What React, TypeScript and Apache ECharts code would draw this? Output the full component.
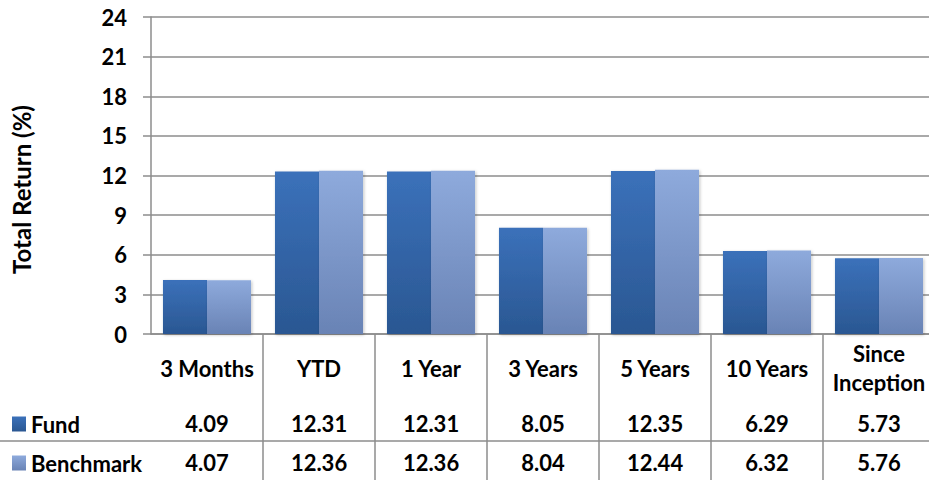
import React, { useEffect, useRef } from "react";
import * as echarts from "echarts";

// Periods shown along the category axis
const categories = ["3 Months", "YTD", "1 Year", "3 Years", "5 Years", "10 Years", "Since\nInception"];
// Total return (%) per period
const fundValues = [4.09, 12.31, 12.31, 8.05, 12.35, 6.29, 5.73];
const benchmarkValues = [4.07, 12.36, 12.36, 8.04, 12.44, 6.32, 5.76];
// Value axis settings
const yMin = 0;
const yMax = 24;
const yStep = 3;

const FONT = "Lato";
const GRID_COLOR = "#8c8c8c";

const fundFill = new echarts.graphic.LinearGradient(0, 0, 0, 1, [
  { offset: 0, color: "#3b71ba" },
  { offset: 1, color: "#2a5792" },
]);
const benchFill = new echarts.graphic.LinearGradient(0, 0, 0, 1, [
  { offset: 0, color: "#8eaadc" },
  { offset: 1, color: "#6983b5" },
]);

const labelText = {
  fontFamily: FONT,
  fontWeight: "bold" as const,
  fontSize: 22,
  color: "#000",
};

export default function App() {
  const ref = useRef<HTMLDivElement>(null);

  useEffect(() => {
    if (!ref.current) return;
    const chart = echarts.init(ref.current, null, { renderer: "svg" });

    // Data-table rows rendered as extra label-only category axes
    const tableRow = (values: number[], margin: number) => ({
      type: "category" as const,
      gridIndex: 0,
      position: "bottom" as const,
      data: values.map((v) => v.toFixed(2)),
      axisLine: { show: false },
      axisTick: { show: false },
      axisLabel: { ...labelText, margin, verticalAlign: "middle" as const, interval: 0 },
      splitLine: { show: false },
    });

    // One legend per table row so each key sits beside its own row
    const rowLegend = (name: string, top: number) => ({
      orient: "horizontal",
      left: 7,
      top,
      itemWidth: 14,
      itemHeight: 15,
      icon: "rect",
      textStyle: { ...labelText, lineHeight: 24 },
      data: [name],
      selectedMode: false,
    });

    chart.setOption({
      animation: false,
      backgroundColor: "#fff",
      textStyle: { fontFamily: FONT },
      grid: {
        left: 151,
        top: 17,
        width: 784,
        height: 317,
        containLabel: false,
        outerBoundsMode: "none",
      },
      legend: [rowLegend("Fund", 407), rowLegend("Benchmark", 446)],
      xAxis: [
        {
          type: "category",
          data: categories,
          axisLine: { show: true, lineStyle: { color: GRID_COLOR, width: 1.5 } },
          axisTick: {
            show: true,
            length: 146,
            interval: (idx: number) => idx !== 0,
            lineStyle: { color: GRID_COLOR, width: 1.5 },
          },
          axisLabel: {
            ...labelText,
            interval: 0,
            margin: 34,
            verticalAlign: "middle",
            lineHeight: 29,
            align: "center",
          },
        },
        tableRow(fundValues, 89),
        tableRow(benchmarkValues, 128),
      ],
      yAxis: {
        type: "value",
        min: yMin,
        max: yMax,
        interval: yStep,
        name: "Total Return (%)",
        nameLocation: "middle",
        nameGap: 118,
        nameRotate: 90,
        nameTextStyle: { ...labelText, fontSize: 24, padding: [0, 28, 0, 0] },
        axisLine: { show: true, lineStyle: { color: GRID_COLOR, width: 1.5 } },
        axisTick: { show: true, length: 8, lineStyle: { color: GRID_COLOR, width: 1.5 } },
        axisLabel: { ...labelText, margin: 24 },
        splitLine: { show: true, lineStyle: { color: GRID_COLOR, width: 1.5 } },
      },
      graphic: [
        {
          type: "line",
          shape: { x1: 0, y1: 441, x2: 929, y2: 441 },
          style: { stroke: GRID_COLOR, lineWidth: 1.5 },
          silent: true,
        },
      ],
      series: [
        {
          name: "Fund",
          type: "bar",
          xAxisIndex: 0,
          data: fundValues,
          barGap: "0%",
          barCategoryGap: "21.4%",
          itemStyle: {
            color: fundFill,
            shadowColor: "rgba(0,0,0,0.25)",
            shadowBlur: 3,
            shadowOffsetX: 1,
            shadowOffsetY: 1,
          },
        },
        {
          name: "Benchmark",
          type: "bar",
          xAxisIndex: 0,
          data: benchmarkValues,
          itemStyle: {
            color: benchFill,
            shadowColor: "rgba(0,0,0,0.25)",
            shadowBlur: 3,
            shadowOffsetX: 1,
            shadowOffsetY: 1,
          },
        },
      ],
    });

    return () => chart.dispose();
  }, []);

  return (
    <div
      ref={ref}
      style={{ position: "fixed", left: 0, top: 0, width: 929, height: 483, overflow: "hidden" }}
    />
  );
}
